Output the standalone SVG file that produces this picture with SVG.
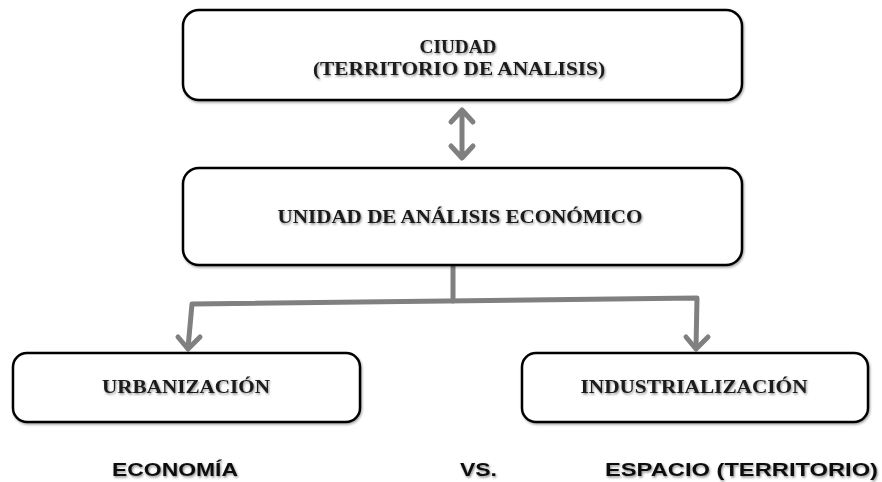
<svg xmlns="http://www.w3.org/2000/svg" width="882" height="482" viewBox="0 0 882 482">
<defs>
<filter id="sh" x="-10%" y="-10%" width="120%" height="130%">
<feDropShadow dx="1" dy="1.5" stdDeviation="1" flood-color="#000" flood-opacity="0.35"/>
</filter>
<filter id="tsh" x="-5%" y="-30%" width="110%" height="160%">
<feDropShadow dx="1" dy="1.5" stdDeviation="0.8" flood-color="#000" flood-opacity="0.45"/>
</filter>
</defs>
<style>
.box{fill:#fff;stroke:#000;stroke-width:2.5;filter:url(#sh)}
.t{font-family:"Liberation Serif","Times New Roman",serif;font-weight:bold;font-size:18px;fill:#1a1a1a;text-anchor:middle;filter:url(#tsh)}
.b{font-family:"Liberation Sans",Arial,sans-serif;font-weight:bold;font-size:18px;fill:#111;filter:url(#tsh)}
.c{fill:none;stroke:#808080;stroke-width:5;stroke-linecap:round;stroke-linejoin:round}
</style>
<rect width="882" height="482" fill="#fff"/>
<g id="connectors">
<path class="c" d="M462,111 V157 M451,122 L462,110 L473,122 M451,146 L462,158 L473,146"/>
<path class="c" d="M453,267 V301"/>
<path class="c" d="M188,348 L192,304 L697,298 L696,348"/>
<path class="c" d="M178,337 L188,349 L200,337"/>
<path class="c" d="M686,337 L696,349 L708,337"/>
</g>
<g id="ciudad">
<rect class="box" x="183" y="10" width="559" height="90" rx="16"/>
<text class="t" x="458" y="53" textLength="77" lengthAdjust="spacingAndGlyphs">CIUDAD</text>
<text class="t" x="459" y="75" textLength="292" lengthAdjust="spacingAndGlyphs">(TERRITORIO DE ANALISIS)</text>
</g>
<g id="unidad">
<rect class="box" x="183" y="168" width="559" height="97" rx="16"/>
<text class="t" x="460" y="223" textLength="365" lengthAdjust="spacingAndGlyphs">UNIDAD DE ANÁLISIS ECONÓMICO</text>
</g>
<g id="urbanizacion">
<rect class="box" x="13" y="353" width="347" height="69" rx="14"/>
<text class="t" x="186" y="393" textLength="168" lengthAdjust="spacingAndGlyphs">URBANIZACIÓN</text>
</g>
<g id="industrializacion">
<rect class="box" x="522" y="353" width="346" height="69" rx="14"/>
<text class="t" x="694" y="393" textLength="227" lengthAdjust="spacingAndGlyphs">INDUSTRIALIZACIÓN</text>
</g>
<g id="labels">
<text class="b" x="112" y="476" textLength="126" lengthAdjust="spacingAndGlyphs">ECONOMÍA</text>
<text class="b" x="460" y="476" textLength="37" lengthAdjust="spacingAndGlyphs">VS.</text>
<text class="b" x="605" y="476" textLength="273" lengthAdjust="spacingAndGlyphs">ESPACIO (TERRITORIO)</text>
</g>
</svg>
